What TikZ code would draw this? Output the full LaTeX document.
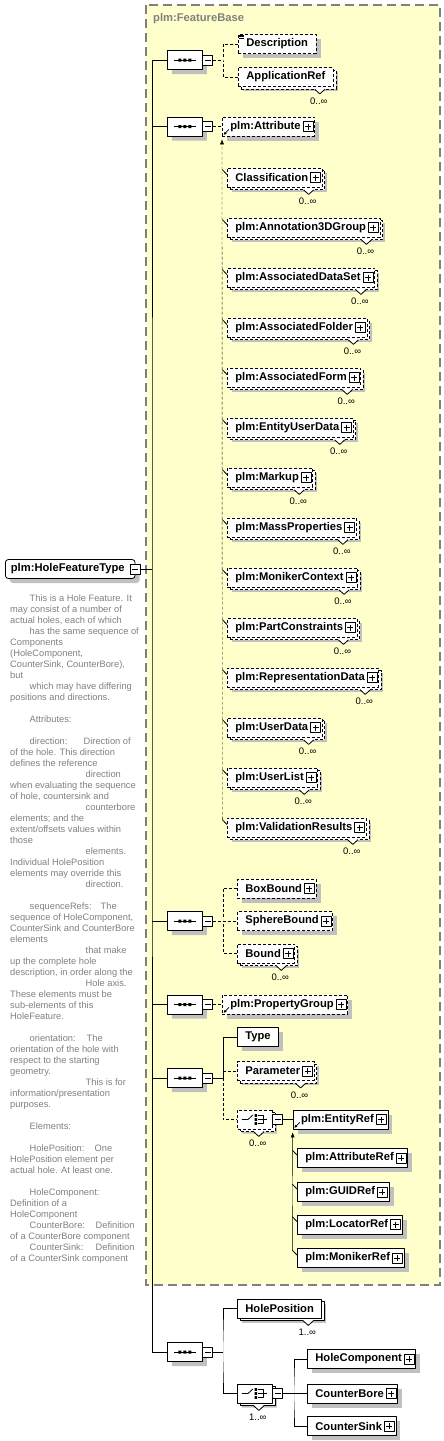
\documentclass[tikz,border=0pt]{standalone}
\usepackage{fontspec}
\setmainfont{Liberation Sans}
\usepackage{xcolor}
\usepackage{tikz}
\usetikzlibrary{arrows.meta,calc,positioning,shadows,shapes.misc}

\definecolor{fbfill}{RGB}{255,255,204}
\definecolor{fbborder}{RGB}{128,128,128}
\definecolor{shade}{RGB}{192,192,192}
\definecolor{doctext}{RGB}{128,128,128}

\pgfdeclarelayer{base}
\pgfdeclarelayer{lines}
\pgfsetlayers{base,lines,main}

\tikzset{
  % small marks drawn on the boxes
  plusbox/.pic={\draw[solid,fill=white,line width=.8pt] (-12,-5) rectangle (-2,5);
                \draw[solid,line width=.8pt] (-10,0) -- (-4,0) (-7,-3) -- (-7,3);},
  minusbox/.pic={\draw[solid,fill=white,line width=.8pt] (0,-5) rectangle (10,5);
                 \draw[solid,line width=.8pt] (2,0) -- (8,0);},
  mult/.pic={\fill[white] (-19,1.6) -- (-14,6.6) -- (-9,1.6) -- cycle;
             \draw[solid,line width=.8pt] (-19,2.5) -- (-14,7) -- (-9,2.5);
             \node[multtext] at (-15,14) {\tikzpictext};},
  refmark/.pic={\draw[solid,line width=.8pt,-{Latex[length=3pt,width=3pt]}] (7,-7) -- (1.5,-1.5);},
  subtick/.pic={\draw[solid,line width=.8pt] (-4.7,2) -- (0,7);},
  docmark/.pic={\draw[solid,line width=.6pt] (1,1) -- (6,1) (1,2.6) -- (6,2.6) (1,4.2) -- (6,4.2);},
  seqmark/.pic={\draw[solid,line width=.8pt] (-11,0) -- (11,0);
                \fill (-6.5,-1.5) rectangle (-3.5,1.5) (-1.5,-1.5) rectangle (1.5,1.5)
                      (3.5,-1.5) rectangle (6.5,1.5);},
  choicemark/.pic={\draw[solid,line width=.8pt] (-13,0) -- (-7,0) -- (-2,-4.5);
                   \fill (-0.3,-5.3) rectangle (2.3,-2.7) (-0.3,-1.3) rectangle (2.3,1.3)
                         (-0.3,2.7) rectangle (2.3,5.3);
                   \draw[solid,line width=.8pt] (3,-4) -- (8,-4) -- (8,4) -- (3,4)
                         (3,0) -- (12,0);},
  % boxes
  keepname/.style={prefix after command={\pgfextra{\xdef\boxname{\tikzlastnode}}}},
  elem/.style={keepname,draw,fill=white,anchor=west,font=\fontsize{11.2}{13}\selectfont\bfseries,
               minimum height=19pt,inner xsep=8pt,inner ysep=0pt,line width=.8pt,
               drop shadow={shadow xshift=4.5pt,shadow yshift=-4.5pt,fill=shade,opacity=1}},
  opt/.style={dash pattern=on 3pt off 2pt},
  multi/.style={general shadow={shadow xshift=2.5pt,shadow yshift=-2.5pt,fill=white,draw}},
  plus/.style={execute at end node={\hspace{6pt}},
               append after command={pic at (\boxname.east) {plusbox}}},
  occurs/.style={append after command={pic[pic text={#1}] at (\boxname.south -| \boxname.east) {mult}}},
  isref/.style={append after command={pic at (\boxname.south west) {refmark}}},
  subst/.style={append after command={pic at (\boxname.north west) {subtick}}},
  hasdoc/.style={append after command={pic at (\boxname.north west) {docmark}}},
  substmember/.style={elem,opt,multi,plus,subst,occurs=0..∞},
  roottype/.style={elem,rounded corners=3pt,inner xsep=5.5pt,execute at end node={\hspace{5pt}},
                   append after command={pic[xshift=-5pt] at (\boxname.east) {minusbox}}},
  compositor/.style={keepname,shape=chamfered rectangle,chamfered rectangle xsep=5pt,draw,fill=white,
                     anchor=west,minimum width=35pt,minimum height=19pt,inner sep=0pt,line width=.8pt,
                     drop shadow={shadow xshift=4.5pt,shadow yshift=-4.5pt,fill=shade,opacity=1}},
  seq/.style={compositor,append after command={pic at (\boxname.center) {seqmark}
                                               pic at (\boxname.east) {minusbox}}},
  choice/.style={compositor,append after command={pic at (\boxname.center) {choicemark}
                                                  pic at (\boxname.east) {minusbox}}},
  multtext/.style={font=\fontsize{9.5}{11}\selectfont,inner sep=0pt},
  basetitle/.style={anchor=west,inner sep=0pt,text=fbborder,font=\fontsize{11.2}{13}\selectfont\bfseries},
  doc/.style={anchor=north west,align=left,inner sep=0pt,text=doctext,font=\fontsize{9.3}{11}\selectfont},
  optline/.style={dash pattern=on 3pt off 2pt},
  subarrow/.style={-{Latex[length=5pt,width=4pt]},shorten >=3pt}
}

\begin{document}
\begin{tikzpicture}[x=1pt,y=-1pt,line join=round,line width=.8pt]
  \useasboundingbox (0,0) rectangle (444,1441);

  % ---- plm:FeatureBase extension area ------------------------------------
  \begin{pgfonlayer}{base}
    \fill[fbfill] (146,5) rectangle (440,1285);
    \draw[fbborder,line width=1.4pt,dash pattern=on 9pt off 5pt] (146,5) rectangle (440,1285);
  \end{pgfonlayer}
  \node[basetitle] (fbtitle) at (153,19) {plm:FeatureBase};

  % ---- the complex type and its annotation -------------------------------
  \node[roottype] (hft) at (5,569) {plm:HoleFeatureType};
  \node[doc] (hftdoc) at (10,595) {%
    \hspace*{19.5pt}This is a Hole Feature. It\\
    may consist of a number of\\
    actual holes, each of which\\
    \hspace*{19.5pt}has the same sequence of\\
    Components\\
    (HoleComponent,\\
    CounterSink, CounterBore),\\
    but\\
    \hspace*{19.5pt}which may have differing\\
    positions and directions.\\[11pt]
    \hspace*{19.5pt}Attributes:\\[11pt]
    \hspace*{19.5pt}\makebox[54pt][l]{direction:}Direction of\\
    of the hole. This direction\\
    defines the reference\\
    \hspace*{75.5pt}direction\\
    when evaluating the sequence\\
    of hole, countersink and\\
    \hspace*{75.5pt}counterbore\\
    elements; and the\\
    extent/offsets values within\\
    those\\
    \hspace*{75.5pt}elements.\\
    Individual HolePosition\\
    elements may override this\\
    \hspace*{75.5pt}direction.\\[11pt]
    \hspace*{19.5pt}\makebox[71pt][l]{sequenceRefs:}The\\
    sequence of HoleComponent,\\
    CounterSink and CounterBore\\
    elements\\
    \hspace*{75.5pt}that make\\
    up the complete hole\\
    description, in order along the\\
    \hspace*{75.5pt}Hole axis.\\
    These elements must be\\
    sub-elements of this\\
    HoleFeature.\\[11pt]
    \hspace*{19.5pt}\makebox[57pt][l]{orientation:}The\\
    orientation of the hole with\\
    respect to the starting\\
    geometry.\\
    \hspace*{75.5pt}This is for\\
    information/presentation\\
    purposes.\\[11pt]
    \hspace*{19.5pt}Elements:\\[11pt]
    \hspace*{19.5pt}\makebox[65pt][l]{HolePosition:}One\\
    HolePosition element per\\
    actual hole. At least one.\\[11pt]
    \hspace*{19.5pt}HoleComponent:\\
    Definition of a\\
    HoleComponent\\
    \hspace*{19.5pt}\makebox[66pt][l]{CounterBore:}Definition\\
    of a CounterBore component\\
    \hspace*{19.5pt}\makebox[66pt][l]{CounterSink:}Definition\\
    of a CounterSink component};

  % ---- sequence: Description, ApplicationRef -----------------------------
  \node[seq] (seqBase) at (167,60) {};
  \node[elem,opt,hasdoc] (desc) at (238,44) {Description};
  \node[elem,opt,multi,occurs=0..∞] (appref) at (238,77) {ApplicationRef};

  % ---- sequence: plm:Attribute and its substitution group ----------------
  \node[seq] (seqAttr) at (167,126.5) {};
  \node[elem,opt,plus,isref] (attr) at (222,126.5) {plm:Attribute};
  \node[substmember] (classif)  at (227,177.5) {Classification};
  \node[substmember] (annot)    at (227,227.5) {plm:Annotation3DGroup};
  \node[substmember] (dataset)  at (227,277.5) {plm:AssociatedDataSet};
  \node[substmember] (folder)   at (227,327.5) {plm:AssociatedFolder};
  \node[substmember] (form)     at (227,377.5) {plm:AssociatedForm};
  \node[substmember] (eud)      at (227,427.5) {plm:EntityUserData};
  \node[substmember] (markup)   at (227,477.5) {plm:Markup};
  \node[substmember] (massprop) at (227,527.5) {plm:MassProperties};
  \node[substmember] (monctx)   at (227,577.5) {plm:MonikerContext};
  \node[substmember] (partcon)  at (227,627.5) {plm:PartConstraints};
  \node[substmember] (repdata)  at (227,677.5) {plm:RepresentationData};
  \node[substmember] (userdata) at (227,727.5) {plm:UserData};
  \node[substmember] (userlist) at (227,777.5) {plm:UserList};
  \node[substmember] (valres)   at (227,827.5) {plm:ValidationResults};

  % ---- sequence: bounds --------------------------------------------------
  \node[seq] (seqBound) at (167,921) {};
  \node[elem,opt,plus] (boxb) at (237,888.5) {BoxBound};
  \node[elem,opt,plus] (sphb) at (237,921) {SphereBound};
  \node[elem,opt,multi,plus,occurs=0..∞] (bound) at (237,953.5) {Bound};

  % ---- sequence: property group ------------------------------------------
  \node[seq] (seqProp) at (167,1004.5) {};
  \node[elem,opt,plus,isref] (propgrp) at (222,1004.5) {plm:PropertyGroup};

  % ---- sequence: Type, Parameter, reference choice -----------------------
  \node[seq] (seqParam) at (167,1078) {};
  \node[elem] (type) at (237,1037) {Type};
  \node[elem,opt,multi,plus,occurs=0..∞] (param) at (237,1071) {Parameter};
  \node[choice,opt,multi,occurs=0..∞] (chRef) at (237,1119.5) {};
  \node[elem,plus,isref] (entref) at (292.7,1119.5) {plm:EntityRef};
  \node[elem,plus,subst] (attref) at (297,1158) {plm:AttributeRef};
  \node[elem,plus,subst] (guidref) at (297,1192) {plm:GUIDRef};
  \node[elem,plus,subst] (locref) at (297,1224.5) {plm:LocatorRef};
  \node[elem,plus,subst] (monref) at (297,1258) {plm:MonikerRef};

  % ---- sequence: hole positions and components ---------------------------
  \node[seq] (seqHole) at (167,1352) {};
  \node[elem,multi,occurs=1..∞] (holepos) at (237,1308.5) {HolePosition};
  \node[choice,multi,occurs=1..∞] (chComp) at (237,1393.5) {};
  \node[elem,plus] (holecomp) at (307,1359) {HoleComponent};
  \node[elem,plus] (cbore) at (307,1393.5) {CounterBore};
  \node[elem,plus] (csink) at (307,1426) {CounterSink};

  % ---- connectors --------------------------------------------------------
  \begin{pgfonlayer}{lines}
    % trunk from the type to every sequence
    \coordinate (trunk) at (152,569);
    \draw (hft.east) -- (trunk);
    \draw (seqBase.west) -| (trunk) |- (seqHole.west);
    \draw (seqAttr.west) -- (trunk |- seqAttr.west);
    \draw (seqBound.west) -- (trunk |- seqBound.west);
    \draw (seqProp.west) -- (trunk |- seqProp.west);
    \draw (seqParam.west) -- (trunk |- seqParam.west);

    \draw[optline] (seqBase.east) -- ++(20,0) coordinate (jBase);
    \draw[optline] (desc.west) -| (jBase) |- (appref.west);

    \draw[optline] (seqAttr.east) -- (attr.west);
    \draw[optline,subarrow] (valres.north west) ++(-4.7,2) -- (attr.south west);

    \draw[optline] (seqBound.east) -- ++(20,0) coordinate (jBound);
    \draw[optline] (boxb.west) -| (jBound) |- (bound.west);
    \draw[optline] (jBound) -- (sphb.west);

    \draw[optline] (seqProp.east) -- (propgrp.west);

    \draw (seqParam.east) -- ++(20,0) coordinate (jParam);
    \draw (type.west) -| (jParam);
    \draw[optline] (jParam) |- (chRef.west);
    \draw[optline] (jParam |- param.west) -- (param.west);
    \draw (chRef.east) -- (entref.west);
    \draw[subarrow] (monref.north west) ++(-4.7,2) -- (entref.south west);

    \draw (seqHole.east) -- ++(20,0) coordinate (jHole);
    \draw (holepos.west) -| (jHole) |- (chComp.west);
    \draw (chComp.east) -- ++(21,0) coordinate (jComp);
    \draw (holecomp.west) -| (jComp) |- (csink.west);
    \draw (jComp) -- (cbore.west);
  \end{pgfonlayer}
\end{tikzpicture}
\end{document}
